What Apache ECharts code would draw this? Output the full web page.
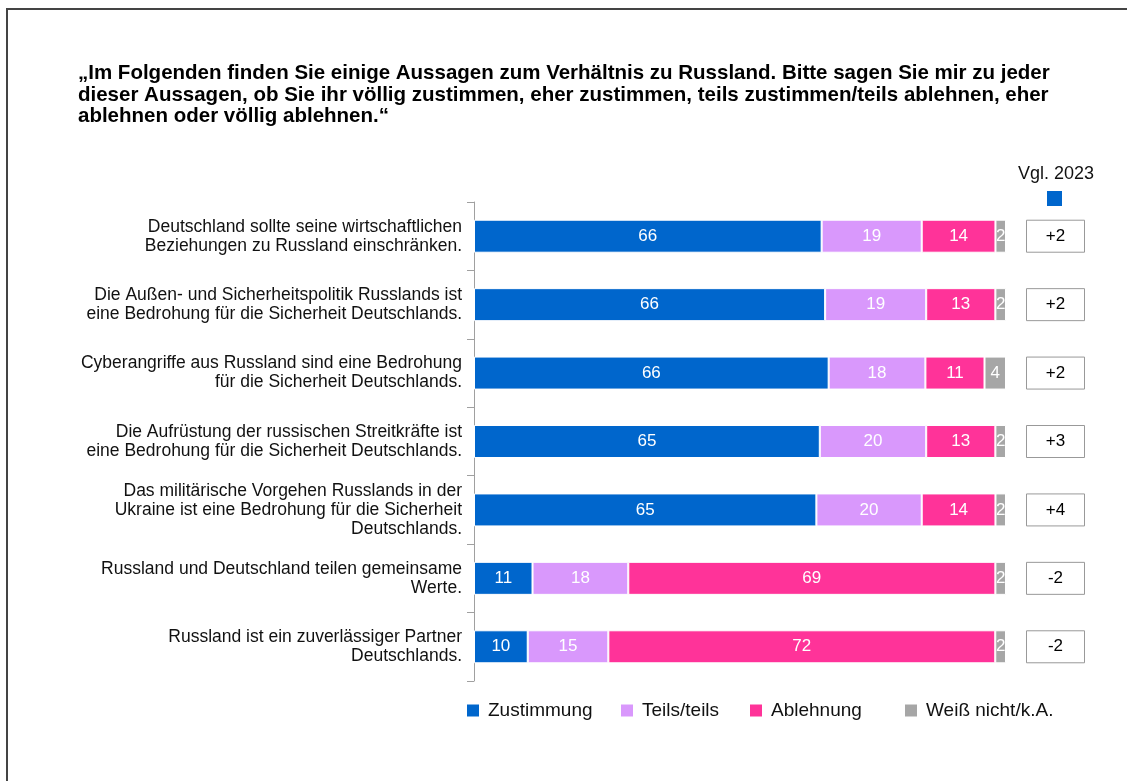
<!DOCTYPE html>
<html>
<head>
<meta charset="utf-8">
<script src="https://cdn.jsdelivr.net/npm/echarts@6/dist/echarts.min.js"></script>
<style>
  html, body { margin: 0; padding: 0; background: #fff; }
  #frame { position: absolute; left: 6px; top: 8px; width: 1130px; height: 790px;
    border-left: 2px solid #444; border-top: 2px solid #444; }
  #chart { position: absolute; left: 0; top: 0; width: 1127px; height: 781px; }
</style>
</head>
<body>
<div id="frame"></div>
<div id="chart"></div>
<script>
// Aussagen zum Verhältnis zu Russland - gestapelte Balken (je Zeile auf 100 skaliert)

const FONT = "'Liberation Sans', Arial, sans-serif";

const statements = [
  'Deutschland sollte seine wirtschaftlichen\nBeziehungen zu Russland einschränken.',
  'Die Außen- und Sicherheitspolitik Russlands ist\neine Bedrohung für die Sicherheit Deutschlands.',
  'Cyberangriffe aus Russland sind eine Bedrohung\nfür die Sicherheit Deutschlands.',
  'Die Aufrüstung der russischen Streitkräfte ist\neine Bedrohung für die Sicherheit Deutschlands.',
  'Das militärische Vorgehen Russlands in der\nUkraine ist eine Bedrohung für die Sicherheit\nDeutschlands.',
  'Russland und Deutschland teilen gemeinsame\nWerte.',
  'Russland ist ein zuverlässiger Partner\nDeutschlands.',
];

const answers = ['Zustimmung', 'Teils/teils', 'Ablehnung', 'Weiß nicht/k.A.'];
const zustimmung = [66, 66, 66, 65, 65, 11, 10];
const teils = [19, 19, 18, 20, 20, 18, 15];
const ablehnung = [14, 13, 11, 13, 14, 69, 72];
const weissNicht = [2, 2, 4, 2, 2, 2, 2];
const vgl2023 = ['+2', '+2', '+2', '+3', '+4', '-2', '-2'];

const COLORS = {
  zust: '#0066cc', teils: '#d998fc', ablehnung: '#ff3399', wn: '#a6a6a6',
  axis: '#a0a0a0', text: '#111',
};

// Legendenposition je Eintrag (x der Farbmarke)
const LEGEND_X = [467, 621, 750, 905];

const totals = zustimmung.map((v, i) => v + teils[i] + ablehnung[i] + weissNicht[i]);

function stackSeries(name, vals, color) {
  return {
    name, type: 'bar', stack: 'all', xAxisIndex: 0, yAxisIndex: 0,
    barWidth: 33,
    data: vals.map((v, i) => ({ value: v / totals[i] * 100, raw: v })),
    itemStyle: { color, borderColor: '#fff', borderWidth: 1 },
    label: {
      show: true, position: 'inside', color: '#fff', fontSize: 17, fontFamily: FONT,
      formatter: p => p.data.raw,
    },
    emphasis: { disabled: true },
  };
}

const chart = echarts.init(document.getElementById('chart'));
chart.setOption({
  animation: false,
  backgroundColor: 'transparent',
  textStyle: { fontFamily: FONT },
  title: {
    left: 73, top: 58,
    text: '„Im Folgenden finden Sie einige Aussagen zum Verhältnis zu Russland. Bitte sagen Sie mir zu jeder\n'
      + 'dieser Aussagen, ob Sie ihr völlig zustimmen, eher zustimmen, teils zustimmen/teils ablehnen, eher\n'
      + 'ablehnen oder völlig ablehnen.“',
    textStyle: { fontSize: 20.5, fontWeight: 'bold', color: '#000', fontFamily: FONT, lineHeight: 21.5 },
  },
  legend: answers.map((name, i) => ({
    left: LEGEND_X[i] - 7, top: 696,
    itemWidth: 14, itemHeight: 14,
    icon: 'rect',
    selectedMode: false,
    textStyle: { fontSize: 19, color: COLORS.text, fontFamily: FONT, padding: [0, 0, 0, 3] },
    data: [name],
  })),
  grid: [
    { left: 474, top: 202, width: 532, height: 479 },
    { left: 1026, top: 202, width: 59, height: 479 },
  ],
  xAxis: [
    { type: 'value', gridIndex: 0, min: 0, max: 100, show: false },
    { type: 'value', gridIndex: 1, min: 0, max: 1, show: false },
  ],
  yAxis: [
    {
      type: 'category', gridIndex: 0, inverse: true, data: statements,
      axisLine: { lineStyle: { color: COLORS.axis, width: 1 } },
      axisTick: { show: true, length: 7, lineStyle: { color: COLORS.axis } },
      axisLabel: {
        color: COLORS.text, fontSize: 17.5, fontFamily: FONT, lineHeight: 19,
        margin: 12, align: 'right',
      },
      splitLine: { show: false },
    },
    { type: 'category', gridIndex: 1, inverse: true, data: statements, show: false },
  ],
  graphic: [
    {
      type: 'text', left: 1018, top: 165,
      style: { text: 'Vgl. 2023', fontSize: 18, fontFamily: FONT, fill: COLORS.text },
    },
    {
      type: 'rect', shape: { x: 1047, y: 191, width: 15, height: 15 },
      style: { fill: COLORS.zust },
    },
  ],
  series: [
    stackSeries(answers[0], zustimmung, COLORS.zust),
    stackSeries(answers[1], teils, COLORS.teils),
    stackSeries(answers[2], ablehnung, COLORS.ablehnung),
    stackSeries(answers[3], weissNicht, COLORS.wn),
    {
      name: 'Vgl. 2023', type: 'bar', xAxisIndex: 1, yAxisIndex: 1,
      barWidth: 33,
      data: vgl2023.map(v => ({ value: 1, label: v })),
      itemStyle: { color: '#fff', borderColor: '#999', borderWidth: 1 },
      label: {
        show: true, position: 'inside', color: '#000', fontSize: 17, fontFamily: FONT,
        formatter: p => p.data.label,
      },
      emphasis: { disabled: true },
    },
  ],
});
</script>
</body>
</html>
